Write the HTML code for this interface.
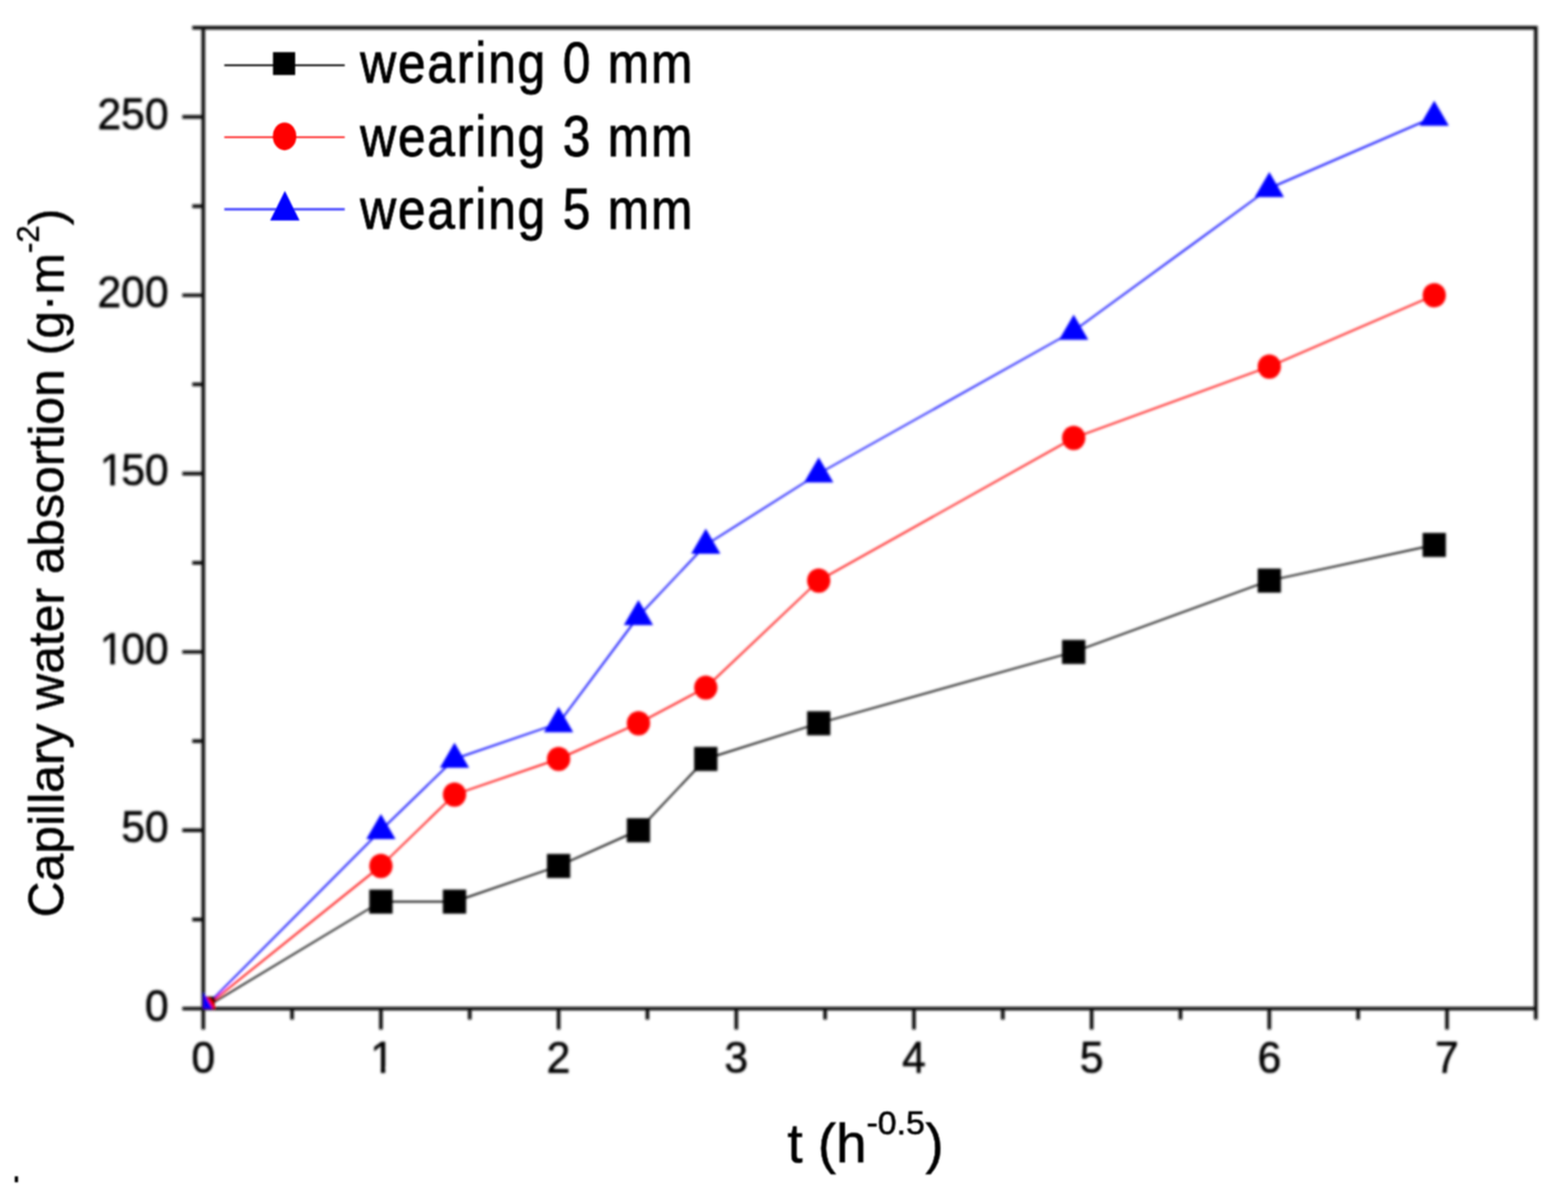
<!DOCTYPE html><html><head><meta charset="utf-8"><style>
html,body{margin:0;padding:0;background:#fff;width:1577px;height:1207px;overflow:hidden}
svg{display:block}
text{font-family:"Liberation Sans",Arial,sans-serif}
</style></head><body>
<svg width="1577" height="1207" viewBox="0 0 1577 1207">
<rect width="1577" height="1207" fill="#fff"/>
<defs><filter id="sa" filterUnits="userSpaceOnUse" x="0" y="0" width="1577" height="1207"><feConvolveMatrix order="7" kernelMatrix="1 6 15 20 15 6 1 6 36 90 120 90 36 6 15 90 225 300 225 90 15 20 120 300 400 300 120 20 15 90 225 300 225 90 15 6 36 90 120 90 36 6 1 6 15 20 15 6 1" divisor="4096" edgeMode="none"/></filter>
<filter id="sb" filterUnits="userSpaceOnUse" x="0" y="0" width="1577" height="1207"><feConvolveMatrix order="3" kernelMatrix="1 2 1 2 4 2 1 2 1" divisor="16" edgeMode="none"/></filter></defs>
<g filter="url(#sa)">
<defs><clipPath id="c"><rect x="204.4" y="27.9375" width="1340.25" height="986.5625"/></clipPath></defs>
<path d="M204.40,27.94H1544.65V1014.50H204.40ZM204.40,1014.50V1035.50M293.75,1014.50V1025.50M383.10,1014.50V1035.50M472.45,1014.50V1025.50M561.80,1014.50V1035.50M651.15,1014.50V1025.50M740.50,1014.50V1035.50M829.85,1014.50V1025.50M919.20,1014.50V1035.50M1008.55,1014.50V1025.50M1097.90,1014.50V1035.50M1187.25,1014.50V1025.50M1276.60,1014.50V1035.50M1365.95,1014.50V1025.50M1455.30,1014.50V1035.50M1544.65,1014.50V1025.50M204.40,1014.50H183.40M204.40,924.81H193.40M204.40,835.12H183.40M204.40,745.44H193.40M204.40,655.75H183.40M204.40,566.06H193.40M204.40,476.38H183.40M204.40,386.69H193.40M204.40,297.00H183.40M204.40,207.31H193.40M204.40,117.62H183.40M204.40,27.94H193.40" stroke="#111" stroke-width="3.7" fill="none"/>
<g clip-path="url(#c)">
<polyline points="204.40,1014.50 383.10,906.88 457.12,906.88 561.80,871.00 642.12,835.12 709.84,763.38 823.43,727.50 1079.85,655.75 1276.60,584.00 1442.47,548.12" fill="none" stroke="#000" stroke-width="1.7" stroke-linejoin="round"/>
<polyline points="204.40,1014.50 383.10,871.00 457.12,799.25 561.80,763.38 642.12,727.50 709.84,691.62 823.43,584.00 1079.85,440.50 1276.60,368.75 1442.47,297.00" fill="none" stroke="#f00" stroke-width="1.7" stroke-linejoin="round"/>
<polyline points="204.40,1014.50 383.10,835.12 457.12,763.38 561.80,727.50 642.12,619.88 709.84,548.12 823.43,476.38 1079.85,332.88 1276.60,189.38 1442.47,117.62" fill="none" stroke="#00f" stroke-width="1.7" stroke-linejoin="round"/>
<rect x="192.70" y="1002.40" width="23.4" height="24.2" fill="#000"/>
<rect x="371.40" y="894.77" width="23.4" height="24.2" fill="#000"/>
<rect x="445.42" y="894.77" width="23.4" height="24.2" fill="#000"/>
<rect x="550.10" y="858.90" width="23.4" height="24.2" fill="#000"/>
<rect x="630.42" y="823.02" width="23.4" height="24.2" fill="#000"/>
<rect x="698.14" y="751.27" width="23.4" height="24.2" fill="#000"/>
<rect x="811.73" y="715.40" width="23.4" height="24.2" fill="#000"/>
<rect x="1068.15" y="643.65" width="23.4" height="24.2" fill="#000"/>
<rect x="1264.90" y="571.90" width="23.4" height="24.2" fill="#000"/>
<rect x="1430.77" y="536.02" width="23.4" height="24.2" fill="#000"/>
<ellipse cx="204.40" cy="1014.50" rx="11.7" ry="12.2" fill="#f00"/>
<ellipse cx="383.10" cy="871.00" rx="11.7" ry="12.2" fill="#f00"/>
<ellipse cx="457.12" cy="799.25" rx="11.7" ry="12.2" fill="#f00"/>
<ellipse cx="561.80" cy="763.38" rx="11.7" ry="12.2" fill="#f00"/>
<ellipse cx="642.12" cy="727.50" rx="11.7" ry="12.2" fill="#f00"/>
<ellipse cx="709.84" cy="691.62" rx="11.7" ry="12.2" fill="#f00"/>
<ellipse cx="823.43" cy="584.00" rx="11.7" ry="12.2" fill="#f00"/>
<ellipse cx="1079.85" cy="440.50" rx="11.7" ry="12.2" fill="#f00"/>
<ellipse cx="1276.60" cy="368.75" rx="11.7" ry="12.2" fill="#f00"/>
<ellipse cx="1442.47" cy="297.00" rx="11.7" ry="12.2" fill="#f00"/>
<polygon points="204.40,998.10 219.10,1023.40 189.70,1023.40" fill="#00f"/>
<polygon points="383.10,818.73 397.80,844.02 368.40,844.02" fill="#00f"/>
<polygon points="457.12,746.98 471.82,772.27 442.42,772.27" fill="#00f"/>
<polygon points="561.80,711.10 576.50,736.40 547.10,736.40" fill="#00f"/>
<polygon points="642.12,603.48 656.82,628.77 627.42,628.77" fill="#00f"/>
<polygon points="709.84,531.73 724.54,557.02 695.14,557.02" fill="#00f"/>
<polygon points="823.43,459.98 838.13,485.27 808.73,485.27" fill="#00f"/>
<polygon points="1079.85,316.48 1094.55,341.77 1065.15,341.77" fill="#00f"/>
<polygon points="1276.60,172.97 1291.30,198.28 1261.90,198.28" fill="#00f"/>
<polygon points="1442.47,101.22 1457.17,126.53 1427.77,126.53" fill="#00f"/>
</g>
<g transform="translate(204.40,1079.00) scale(0.9556,1)"><text x="-12.51" y="0" font-size="45" fill="#000" stroke="#000" stroke-width="0.6">0</text></g>
<g transform="translate(383.10,1079.00) scale(0.9556,1)"><clipPath id="f1"><path clip-rule="evenodd" d="M-200,-100H200V100H-200ZM-8.92,-5.93H-0.13V1.76H-8.92ZM4.51,-5.93H13.06V1.76H4.51Z"/></clipPath><text x="-12.51" y="0" font-size="45" fill="#000" stroke="#000" stroke-width="0.6" clip-path="url(#f1)"><tspan dx="1.4">1</tspan></text></g>
<g transform="translate(561.80,1079.00) scale(0.9556,1)"><text x="-12.51" y="0" font-size="45" fill="#000" stroke="#000" stroke-width="0.6">2</text></g>
<g transform="translate(740.50,1079.00) scale(0.9556,1)"><text x="-12.51" y="0" font-size="45" fill="#000" stroke="#000" stroke-width="0.6">3</text></g>
<g transform="translate(919.20,1079.00) scale(0.9556,1)"><text x="-12.51" y="0" font-size="45" fill="#000" stroke="#000" stroke-width="0.6">4</text></g>
<g transform="translate(1097.90,1079.00) scale(0.9556,1)"><text x="-12.51" y="0" font-size="45" fill="#000" stroke="#000" stroke-width="0.6">5</text></g>
<g transform="translate(1276.60,1079.00) scale(0.9556,1)"><text x="-12.51" y="0" font-size="45" fill="#000" stroke="#000" stroke-width="0.6">6</text></g>
<g transform="translate(1455.30,1079.00) scale(0.9556,1)"><text x="-12.51" y="0" font-size="45" fill="#000" stroke="#000" stroke-width="0.6">7</text></g>
<g transform="translate(169.70,1026.50) scale(0.9556,1)"><text x="-25.03" y="0" font-size="45" fill="#000" stroke="#000" stroke-width="0.6">0</text></g>
<g transform="translate(169.70,847.12) scale(0.9556,1)"><text x="-50.05" y="0" font-size="45" fill="#000" stroke="#000" stroke-width="0.6">50</text></g>
<g transform="translate(169.70,667.75) scale(0.9556,1)"><clipPath id="f2"><path clip-rule="evenodd" d="M-200,-100H200V100H-200ZM-70.18,-5.93H-61.39V1.76H-70.18ZM-56.76,-5.93H-48.21V1.76H-56.76Z"/></clipPath><text x="-75.08" y="0" font-size="45" fill="#000" stroke="#000" stroke-width="0.6" clip-path="url(#f2)"><tspan dx="2.7">1</tspan><tspan dx="-2.7">0</tspan>0</text></g>
<g transform="translate(169.70,488.38) scale(0.9556,1)"><clipPath id="f3"><path clip-rule="evenodd" d="M-200,-100H200V100H-200ZM-70.18,-5.93H-61.39V1.76H-70.18ZM-56.76,-5.93H-48.21V1.76H-56.76Z"/></clipPath><text x="-75.08" y="0" font-size="45" fill="#000" stroke="#000" stroke-width="0.6" clip-path="url(#f3)"><tspan dx="2.7">1</tspan><tspan dx="-2.7">5</tspan>0</text></g>
<g transform="translate(169.70,309.00) scale(0.9556,1)"><text x="-75.08" y="0" font-size="45" fill="#000" stroke="#000" stroke-width="0.6">200</text></g>
<g transform="translate(169.70,129.62) scale(0.9556,1)"><text x="-75.08" y="0" font-size="45" fill="#000" stroke="#000" stroke-width="0.6">250</text></g>
</g><g filter="url(#sb)">
<line x1="225.6" y1="65.6" x2="346.7" y2="65.6" stroke="#000" stroke-width="1.6"/>
<line x1="225.6" y1="138" x2="346.7" y2="138" stroke="#f00" stroke-width="1.7"/>
<line x1="225.6" y1="210.6" x2="346.7" y2="210.6" stroke="#4a4aff" stroke-width="2.5"/>
<rect x="274.55" y="52.45" width="22.3" height="23" fill="#000"/>
<ellipse cx="286.20" cy="137.20" rx="11.8" ry="14" fill="#f00"/>
<polygon points="286.5,191.9 301.3,221.7 271.7,221.7" fill="#00f"/>
<text transform="translate(362.2,83.0) scale(0.8850,1)" font-size="56.5" letter-spacing="2.09" fill="#000" stroke="#000" stroke-width="0.9">wearing 0 mm</text>
<text transform="translate(362.2,156.9) scale(0.8850,1)" font-size="56.5" letter-spacing="2.09" fill="#000" stroke="#000" stroke-width="0.9">wearing 3 mm</text>
<text transform="translate(362.2,229.5) scale(0.8850,1)" font-size="56.5" letter-spacing="2.09" fill="#000" stroke="#000" stroke-width="0.9">wearing 5 mm</text>
<text x="792" y="1169.3" font-size="55" fill="#000" stroke="#000" stroke-width="0.6">t (h<tspan font-size="34" dy="-28.6">-0.5</tspan><tspan dy="28.6" dx="0.6">)</tspan></text>
<text transform="translate(64,922.7) rotate(-90)" font-size="50.1" fill="#000" stroke="#000" stroke-width="0.5">Capillary water absortion (g·m<tspan font-size="31" dy="-24.7" dx="0.2">-2</tspan><tspan dy="24.7" dx="0.4">)</tspan></text>
<rect x="14.8" y="1183.2" width="3.4" height="6" fill="#000"/>
</g></svg></body></html>
